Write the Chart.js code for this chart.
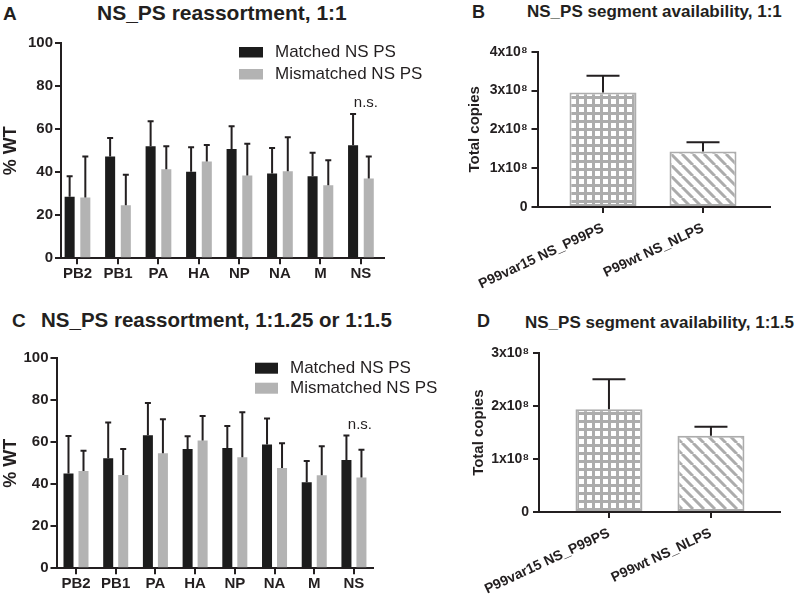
<!DOCTYPE html>
<html>
<head>
<meta charset="utf-8">
<script src="https://cdn.jsdelivr.net/npm/chart.js@4.4.1/dist/chart.umd.min.js"></script>
<style>
  body { margin: 0; background: #fff; width: 800px; height: 600px; position: relative; overflow: hidden;
         font-family: "Liberation Sans", Arial, sans-serif; color: #231f20; }
  canvas { position: absolute; }
  .t { position: absolute; font-weight: bold; white-space: nowrap; line-height: 1; }
</style>
</head>
<body>
<div class="t" style="left:3px;top:4px;font-size:19px">A</div>
<div class="t" style="left:97px;top:2px;font-size:21px">NS_PS reassortment, 1:1</div>
<div class="t" style="left:472px;top:3px;font-size:18px">B</div>
<div class="t" style="left:527px;top:3px;font-size:17px">NS_PS segment availability, 1:1</div>
<div class="t" style="left:12px;top:311px;font-size:19px">C</div>
<div class="t" style="left:41px;top:310px;font-size:20.5px">NS_PS reassortment, 1:1.25 or 1:1.5</div>
<div class="t" style="left:477px;top:312px;font-size:18px">D</div>
<div class="t" style="left:525px;top:314px;font-size:17px">NS_PS segment availability, 1:1.5</div>

<canvas id="chartA" width="440" height="292" style="left:0;top:0"></canvas>
<canvas id="chartB" width="360" height="300" style="left:440px;top:0"></canvas>
<canvas id="chartC" width="440" height="300" style="left:0;top:300px"></canvas>
<canvas id="chartD" width="360" height="300" style="left:440px;top:300px"></canvas>

<script>
// ---- data ----
const segments = ['PB2', 'PB1', 'PA', 'HA', 'NP', 'NA', 'M', 'NS'];
const seriesNames = ['Matched NS PS', 'Mismatched NS PS'];
const pctTicks = [0, 20, 40, 60, 80, 100];

// A: 1:1, % WT mean and SD (upper bar only)
const matchedA = [28.6, 47.4, 52.1, 40.2, 50.8, 39.4, 38.2, 52.6];
const matchedA_sd = [9.6, 8.5, 11.6, 11.4, 10.6, 11.9, 10.9, 14.5];
const mismatchedA = [28.3, 24.7, 41.4, 45.0, 38.5, 40.5, 34.0, 37.1];
const mismatchedA_sd = [19.0, 14.2, 10.7, 7.7, 14.8, 15.8, 11.6, 10.3];

// C: 1:1.25 or 1:1.5
const matchedC = [45.2, 52.4, 63.3, 56.8, 57.3, 58.9, 41.0, 51.6];
const matchedC_sd = [17.8, 17.0, 15.4, 6.1, 10.5, 12.4, 10.1, 11.6];
const mismatchedC = [46.3, 44.4, 54.8, 60.8, 52.9, 47.8, 44.3, 43.2];
const mismatchedC_sd = [9.7, 12.4, 16.2, 11.7, 21.4, 11.7, 13.8, 13.3];

// B, D: total copies
const samples = ['P99var15 NS_P99PS', 'P99wt NS_NLPS'];
const copiesB = [2.95e8, 1.43e8];
const copiesB_sd = [0.43e8, 0.24e8];
const copiesD = [1.94e8, 1.44e8];
const copiesD_sd = [0.57e8, 0.17e8];
const copiesTicksB = [0, 1e8, 2e8, 3e8, 4e8];
const copiesTicksD = [0, 1e8, 2e8, 3e8];

const INK = '#231f20';
const DARK = '#1c1c1c';
const GREY = '#b3b3b3';
const PAT = '#acacac';

Chart.defaults.font.family = '"Liberation Sans", Arial, sans-serif';
Chart.defaults.color = INK;
Chart.defaults.animation = false;

// x positions are indices on a linear axis so the ticks can sit where Prism put them
const pts = vals => vals.map((v, i) => ({ x: i, y: v }));
const copiesLabel = v => v === 0 ? '0' : (v / 1e8) + 'x10\u2078';

function gridPattern() {
  const c = document.createElement('canvas');
  c.width = c.height = 8;
  const g = c.getContext('2d');
  g.fillStyle = PAT; g.fillRect(0, 0, 8, 8);
  g.fillStyle = '#fff'; g.fillRect(3, 3, 5, 5);
  return g.createPattern(c, 'repeat');
}
function stripePattern() {
  const s = 11;
  const c = document.createElement('canvas');
  c.width = c.height = s;
  const g = c.getContext('2d');
  g.fillStyle = '#fff'; g.fillRect(0, 0, s, s);
  g.strokeStyle = PAT; g.lineWidth = 3;
  g.beginPath();
  for (const k of [-s, 0, s]) { g.moveTo(k, 0); g.lineTo(k + s, s); }
  g.stroke();
  return g.createPattern(c, 'repeat');
}

// upward SD bars + optional "n.s." note
const errorBars = {
  id: 'errorBars',
  afterDatasetsDraw(chart, args, opts) {
    const { ctx, scales: { x, y } } = chart;
    ctx.save();
    ctx.strokeStyle = INK;
    ctx.lineWidth = opts.width;
    let noteTop = Infinity;
    chart.data.datasets.forEach((ds, i) => {
      chart.getDatasetMeta(i).data.forEach((bar, j) => {
        const top = y.getPixelForValue(ds.data[j].y + ds.sd[j]);
        ctx.beginPath();
        ctx.moveTo(bar.x, bar.y);
        ctx.lineTo(bar.x, top);
        ctx.moveTo(bar.x - opts.cap / 2, top);
        ctx.lineTo(bar.x + opts.cap / 2, top);
        ctx.stroke();
        if (opts.note && j === opts.note.index) noteTop = Math.min(noteTop, top);
      });
    });
    if (opts.note) {
      ctx.fillStyle = INK;
      ctx.font = '15px "Liberation Sans", Arial, sans-serif';
      ctx.textAlign = 'center';
      ctx.textBaseline = 'middle';
      ctx.fillText(opts.note.text, x.getPixelForValue(opts.note.index) + opts.note.dx, noteTop - opts.note.dy);
    }
    ctx.restore();
  }
};

// legend boxes placed inside the plot, like the original
const boxLegend = {
  id: 'boxLegend',
  afterDraw(chart, args, opts) {
    if (!opts.w) return;
    const ctx = chart.ctx;
    ctx.save();
    ctx.font = '17px "Liberation Sans", Arial, sans-serif';
    ctx.textBaseline = 'middle';
    chart.data.datasets.forEach((ds, i) => {
      const top = opts.y + i * opts.row;
      ctx.fillStyle = ds.backgroundColor;
      ctx.fillRect(opts.x, top, opts.w, opts.h);
      ctx.fillStyle = INK;
      ctx.fillText(ds.label, opts.x + opts.w + opts.gap, top + opts.h / 2 + 0.5);
    });
    ctx.restore();
  }
};

function yAxis(ticks, title, titlePad, width, fmt) {
  const tickOpts = { font: { size: 15, weight: 'bold' }, color: INK, padding: 2 };
  if (fmt) { tickOpts.callback = fmt; tickOpts.font.size = 14; tickOpts.padding = 4; }
  return {
    type: 'linear',
    min: ticks[0],
    max: ticks[ticks.length - 1],
    afterBuildTicks: s => { s.ticks = ticks.map(v => ({ value: v })); },
    afterFit: s => { s.width = width; },
    border: { color: INK, width: 2 },
    grid: { drawOnChartArea: false, color: INK, lineWidth: 2, tickLength: 6 },
    ticks: tickOpts,
    title: { display: true, text: title, color: INK, font: { size: fmt ? 15 : 18, weight: 'bold' },
             padding: { top: titlePad, bottom: 0 } }
  };
}

function xAxis(labels, min, max, height, rotation, size, pad) {
  return {
    type: 'linear',
    offset: false,
    bounds: 'data',
    min: min,
    max: max,
    afterBuildTicks: s => { s.ticks = labels.map((l, i) => ({ value: i })); },
    afterFit: s => { s.height = height; },
    border: { color: INK, width: 2 },
    grid: { offset: false, drawOnChartArea: false, color: INK, lineWidth: 2, tickLength: 6 },
    ticks: { font: { size: size, weight: 'bold' }, color: INK, padding: pad, autoSkip: false,
             minRotation: rotation, maxRotation: rotation, callback: v => labels[v] }
  };
}

function groupedChart(id, matched, matchedSd, mismatched, mismatchedSd, layout) {
  return new Chart(document.getElementById(id), {
    type: 'bar',
    data: {
      datasets: [
        { label: seriesNames[0], data: pts(matched), sd: matchedSd, backgroundColor: DARK,
          barPercentage: layout.barPct, categoryPercentage: layout.catPct },
        { label: seriesNames[1], data: pts(mismatched), sd: mismatchedSd, backgroundColor: GREY,
          barPercentage: layout.barPct, categoryPercentage: layout.catPct }
      ]
    },
    options: {
      responsive: false,
      layout: { padding: { top: layout.top, right: layout.right, left: 0, bottom: 0 } },
      scales: {
        x: xAxis(segments, layout.xmin, layout.xmax, layout.xh, 0, 15, 1),
        y: yAxis(pctTicks, '% WT', 0, layout.yw)
      },
      plugins: {
        legend: { display: false },
        tooltip: { enabled: false },
        errorBars: { width: 2, cap: 6, note: { text: 'n.s.', index: 7, dx: layout.noteDx, dy: 11 } },
        boxLegend: layout.legend
      }
    },
    plugins: [errorBars, boxLegend]
  });
}

function copiesChart(id, values, sd, ticks, layout) {
  return new Chart(document.getElementById(id), {
    type: 'bar',
    data: {
      datasets: [{
        label: 'Total copies', data: pts(values), sd: sd,
        backgroundColor: [gridPattern(), stripePattern()],
        borderColor: PAT, borderWidth: 2, borderSkipped: false,
        barPercentage: layout.barPct, categoryPercentage: 1
      }]
    },
    options: {
      responsive: false,
      layout: { padding: { top: layout.top, right: layout.right, left: 0, bottom: 0 } },
      scales: {
        x: xAxis(samples, layout.xmin, layout.xmax, layout.xh, 25, 14, 7),
        y: yAxis(ticks, 'Total copies', layout.titlePad, layout.yw, copiesLabel)
      },
      plugins: {
        legend: { display: false },
        tooltip: { enabled: false },
        errorBars: { width: 2, cap: 33 },
        boxLegend: {}
      }
    },
    plugins: [errorBars, boxLegend]
  });
}

groupedChart('chartA', matchedA, matchedA_sd, mismatchedA, mismatchedA_sd, {
  top: 43.3, right: 56, yw: 61, xh: 33.7, xmin: -0.407, xmax: 7.57,
  barPct: 0.64, catPct: 0.775, noteDx: 5,
  legend: { x: 239, y: 47, w: 24, h: 10.5, row: 22, gap: 12 }
});
groupedChart('chartC', matchedC, matchedC_sd, mismatchedC, mismatchedC_sd, {
  top: 58.3, right: 67, yw: 56.5, xh: 31.7, xmin: -0.491, xmax: 7.48,
  barPct: 0.667, catPct: 0.756, noteDx: 6,
  legend: { x: 255, y: 62.7, w: 23, h: 11, row: 20, gap: 12 }
});
copiesChart('chartB', copiesB, copiesB_sd, copiesTicksB, {
  top: 51.7, right: 30, yw: 97.5, xh: 93, xmin: -0.655, xmax: 1.67, barPct: 0.67, titlePad: 26
});
copiesChart('chartD', copiesD, copiesD_sd, copiesTicksD, {
  top: 53.3, right: 20, yw: 99, xh: 88, xmin: -0.686, xmax: 1.677, barPct: 0.657, titlePad: 30
});
</script>
</body>
</html>
